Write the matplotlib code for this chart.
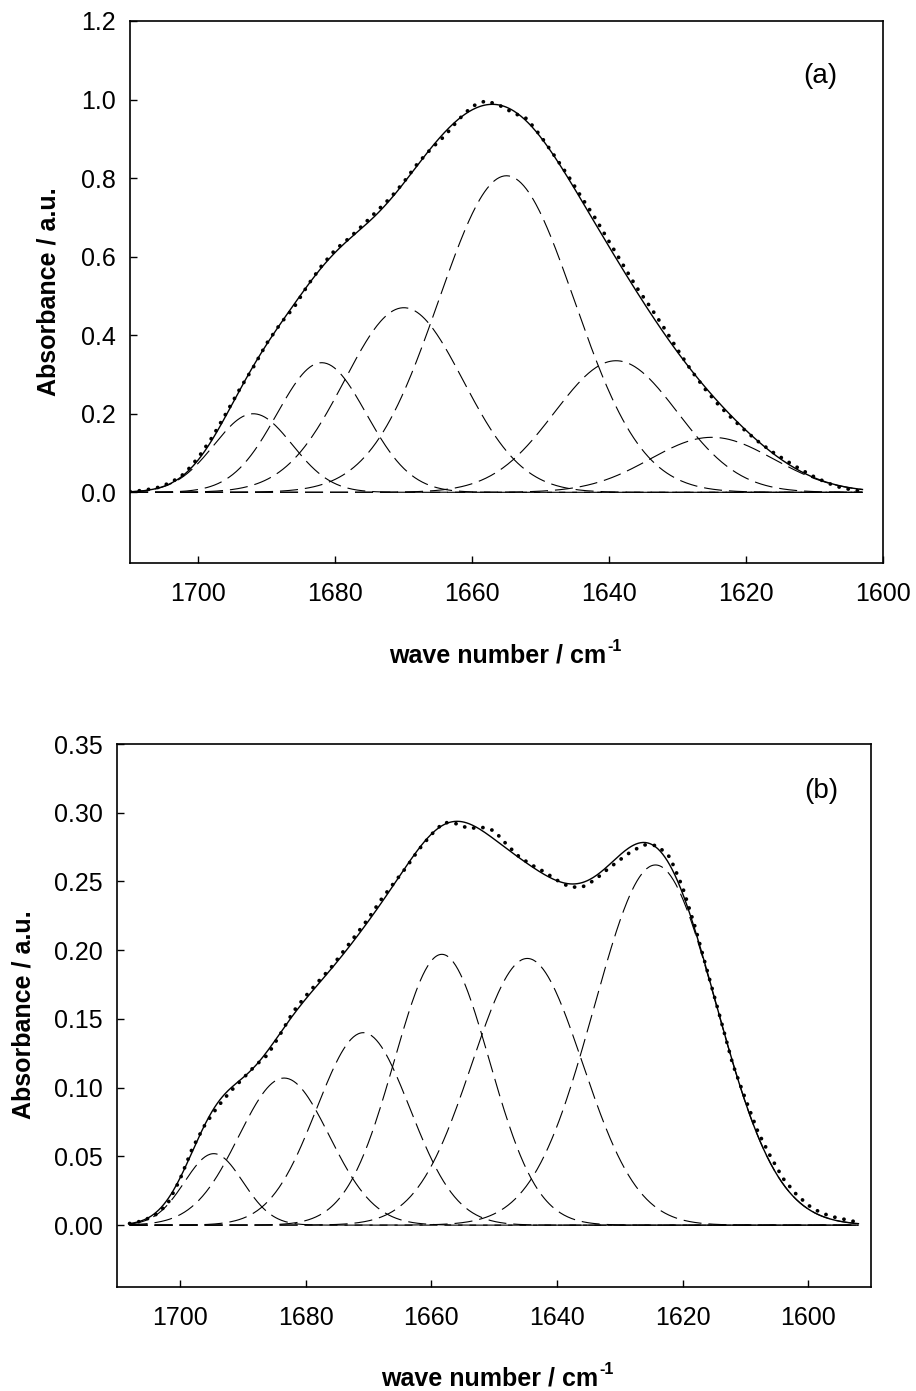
import numpy as np
import matplotlib
matplotlib.use("Agg")
import matplotlib.pyplot as plt

plt.rcParams['font.family'] = ['Liberation Sans', 'DejaVu Sans']
plt.rcParams['lines.scale_dashes'] = False

# ---------------- panel (a) ----------------
wn_a = [1710, 1708, 1706, 1704, 1702, 1700, 1698, 1696, 1694, 1692,
        1690, 1688, 1686, 1684, 1682, 1680, 1678, 1676, 1674, 1672,
        1670, 1668, 1666, 1664, 1662, 1660, 1658, 1656, 1654, 1652,
        1650, 1648, 1646, 1644, 1642, 1640, 1638, 1636, 1634, 1632,
        1630, 1628, 1626, 1624, 1622, 1620, 1618, 1616, 1614, 1612,
        1610, 1608, 1606, 1604, 1603]
abs_a = [0.002, 0.005, 0.012, 0.025, 0.048, 0.089, 0.140, 0.200, 0.262, 0.318,
         0.380, 0.430, 0.472, 0.528, 0.577, 0.618, 0.647, 0.680, 0.715, 0.749,
         0.790, 0.837, 0.875, 0.908, 0.949, 0.983, 0.997, 0.985, 0.966, 0.951,
         0.907, 0.857, 0.806, 0.750, 0.697, 0.638, 0.580, 0.522, 0.472, 0.419,
         0.363, 0.310, 0.263, 0.222, 0.187, 0.155, 0.126, 0.101, 0.079, 0.058,
         0.039, 0.023, 0.011, 0.005, 0.002]
peak_center_a = [1692.0, 1682.0, 1670.0, 1655.0, 1639.0, 1625.0]
peak_height_a = [0.200, 0.330, 0.470, 0.806, 0.335, 0.140]
peak_sigma_a = [5.70, 6.52, 8.66, 9.90, 9.00, 9.00]

# ---------------- panel (b) ----------------
wn_b = [1708, 1706, 1704, 1702, 1700, 1698, 1696, 1694, 1692, 1690,
        1688, 1686, 1684, 1682, 1680, 1678, 1676, 1674, 1672, 1670,
        1668, 1666, 1664, 1662, 1660, 1658, 1656, 1654, 1652, 1650,
        1648, 1646, 1644, 1642, 1640, 1638, 1636, 1634, 1632, 1630,
        1628, 1626, 1624, 1622, 1620, 1618, 1616, 1614, 1612, 1610,
        1608, 1606, 1604, 1602, 1600, 1598, 1596, 1594, 1592]
abs_b = [0.0012, 0.003, 0.007, 0.015, 0.033, 0.056, 0.073, 0.086, 0.097, 0.1065,
         0.116, 0.124, 0.139, 0.155, 0.1665, 0.177, 0.187, 0.199, 0.211, 0.223,
         0.2366, 0.2485, 0.260, 0.273, 0.284, 0.293, 0.292, 0.2885, 0.2895, 0.287,
         0.277, 0.268, 0.262, 0.257, 0.251, 0.246, 0.2458, 0.251, 0.2586, 0.2656,
         0.2723, 0.2766, 0.2761, 0.2676, 0.246, 0.217, 0.184, 0.151, 0.117, 0.092,
         0.068, 0.050, 0.034, 0.023, 0.0145, 0.009, 0.006, 0.004, 0.002]
peak_center_b = [1694.6, 1683.4, 1670.8, 1658.3, 1644.7, 1624.3]
peak_height_b = [0.052, 0.107, 0.140, 0.197, 0.194, 0.262]
peak_sigma_b = [4.64, 7.20, 7.42, 7.58, 8.80, 9.75]

xticks = [1700, 1680, 1660, 1640, 1620, 1600]
yticks_a = [0.0, 0.2, 0.4, 0.6, 0.8, 1.0, 1.2]
yticks_b = [0.00, 0.05, 0.10, 0.15, 0.20, 0.25, 0.30, 0.35]

W, H = 916, 1391
fig = plt.figure(figsize=(W / 100, H / 100), dpi=100)


def px_axes(l, t, r, b):
    return fig.add_axes([l / W, 1 - b / H, (r - l) / W, (b - t) / H])


def draw(ax, wn, ab, cen, hei, sig, xlim, ylim, yticks, yfmt):
    grid = np.linspace(wn[0], wn[-1], 600)
    total = np.zeros_like(grid)
    for c, h, s in zip(cen, hei, sig):
        g = h * np.exp(-(grid - c) ** 2 / (2 * s ** 2))
        total += g
        ax.plot(grid, g, color='black', lw=0.8, linestyle=(0, (13, 5)))
    ax.plot(grid, total, color='black', lw=1.0)
    ax.plot(wn, ab, color='black', lw=2.7, linestyle=(0, (0.1, 6.6)),
            dash_capstyle='round')
    ax.set_xlim(*xlim)
    ax.set_ylim(*ylim)
    ax.set_xticks(xticks)
    ax.set_yticks(yticks)
    ax.set_yticklabels([yfmt.format(v) for v in yticks])
    ax.tick_params(direction='in', length=5, width=1.0, labelsize=18,
                   top=False, right=False)
    ax.tick_params(axis='x', pad=14)
    ax.tick_params(axis='y', pad=10)
    for sp in ax.spines.values():
        sp.set_linewidth(1.2)


ax_a = px_axes(130, 21, 883, 563)
draw(ax_a, wn_a, abs_a, peak_center_a, peak_height_a, peak_sigma_a,
     (1710, 1600), (-0.18, 1.2), yticks_a, "{:.1f}")
ax_b = px_axes(117, 744, 871, 1287)
draw(ax_b, wn_b, abs_b, peak_center_b, peak_height_b, peak_sigma_b,
     (1710, 1590), (-0.045, 0.35), yticks_b, "{:.2f}")

renderer = fig.canvas.get_renderer()
for cx, base in [(498, 663), (490, 1386)]:
    t = fig.text(cx / W, 1 - base / H, 'wave number / cm', ha='center',
                 va='baseline', fontsize=18, fontweight='bold')
    bb = t.get_window_extent(renderer)
    fig.text((bb.x1 + 1) / W, 1 - (base - 12) / H, '-1', ha='left',
             va='baseline', fontsize=11.5, fontweight='bold')

fig.text(49 / W, 1 - 292 / H, 'Absorbance / a.u.', rotation=90,
         ha='center', va='center', fontsize=18, fontweight='bold')
fig.text(24 / W, 1 - 1015 / H, 'Absorbance / a.u.', rotation=90,
         ha='center', va='center', fontsize=18, fontweight='bold')
fig.text(820 / W, 1 - 76 / H, '(a)', ha='center', va='center', fontsize=20)
fig.text(821 / W, 1 - 791 / H, '(b)', ha='center', va='center', fontsize=20)

fig.savefig('out.png', dpi=100)
